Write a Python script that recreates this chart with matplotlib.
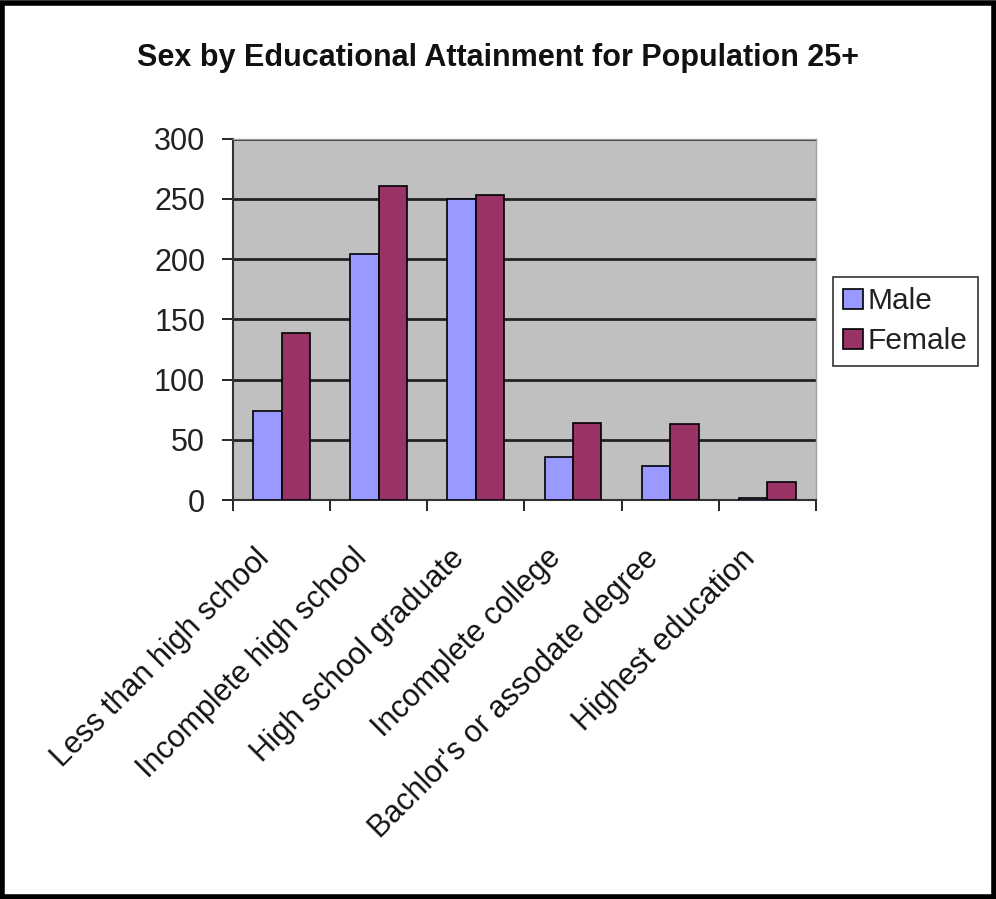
import numpy as np
import matplotlib
matplotlib.use("Agg")
import matplotlib.pyplot as plt
from matplotlib.patches import Rectangle
from matplotlib.transforms import offset_copy

plt.rcParams['font.family'] = ['Liberation Sans', 'DejaVu Sans']

categories = ["Less than high school", "Incomplete high school", "High school graduate",
              "Incomplete college", "Bachlor's or assodate degree", "Highest education"]
male = [74, 204, 250, 36, 28, 2]
female = [139, 261, 253, 64, 63, 15]
yticks = [0, 50, 100, 150, 200, 250, 300]

male_color = "#9999FF"
female_color = "#993366"

fig = plt.figure(figsize=(9.96, 8.99), dpi=100)
ax = fig.add_axes([0.2339, 0.4438, 0.5853, 0.4021])
ax.set_facecolor("#C0C0C0")

x = np.arange(len(categories)) + 0.5
w = 0.293
ax.bar(x - w / 2, male, w, color=male_color, edgecolor="black", linewidth=1.2,
       label="Male", zorder=3)
ax.bar(x + w / 2, female, w, color=female_color, edgecolor="black", linewidth=1.2,
       label="Female", zorder=3)

ax.set_xlim(0, len(categories))
ax.set_ylim(0, 300)
ax.set_yticks(yticks)
ax.set_yticklabels([str(v) for v in yticks], fontsize=22, color="#222222")
ax.yaxis.grid(True, color="#222222", linewidth=2, zorder=1)
ax.set_axisbelow(True)

# ticks mark category boundaries; names are drawn separately at the centres
ax.set_xticks(np.arange(len(categories) + 1))
ax.set_xticklabels([])
ax.tick_params(axis="x", direction="out", length=8, width=1.2)
ax.tick_params(axis="y", direction="out", length=8, width=1.2, pad=12)

label_tr = offset_copy(ax.transData, fig=fig, x=-27, y=-43, units="dots")
for xi, name in zip(x, categories):
    ax.text(xi, 0, name, transform=label_tr, rotation=45, ha="right", va="top",
            rotation_mode="anchor", fontsize=22, color="#111111", clip_on=False)

for side in ["left", "bottom"]:
    ax.spines[side].set_color("#333333")
    ax.spines[side].set_linewidth(1.5)
for side in ["top", "right"]:
    ax.spines[side].set_color("#A0A0A0")
    ax.spines[side].set_linewidth(1.0)

fig.text(0.5, 1 - 58 / 899, "Sex by Educational Attainment for Population 25+",
         ha="center", va="center", fontsize=22, fontweight="bold", color="#111111")

leg = fig.legend(loc="upper left", bbox_to_anchor=(833 / 996, 1 - 277 / 899),
                 fontsize=21.5, frameon=True, fancybox=False, edgecolor="black",
                 handlelength=0.65, handleheight=0.65, handletextpad=0.15,
                 borderpad=0.35, labelspacing=0.4, borderaxespad=0)
leg.get_frame().set_linewidth(1.2)
for t in leg.get_texts():
    t.set_color("#222222")

# outer frame round the whole chart
fig.patches.append(Rectangle((0.002, 0.002), 0.996, 0.995, transform=fig.transFigure,
                             fill=False, edgecolor="black", linewidth=4))

fig.savefig("out.png", dpi=100, facecolor="white")
